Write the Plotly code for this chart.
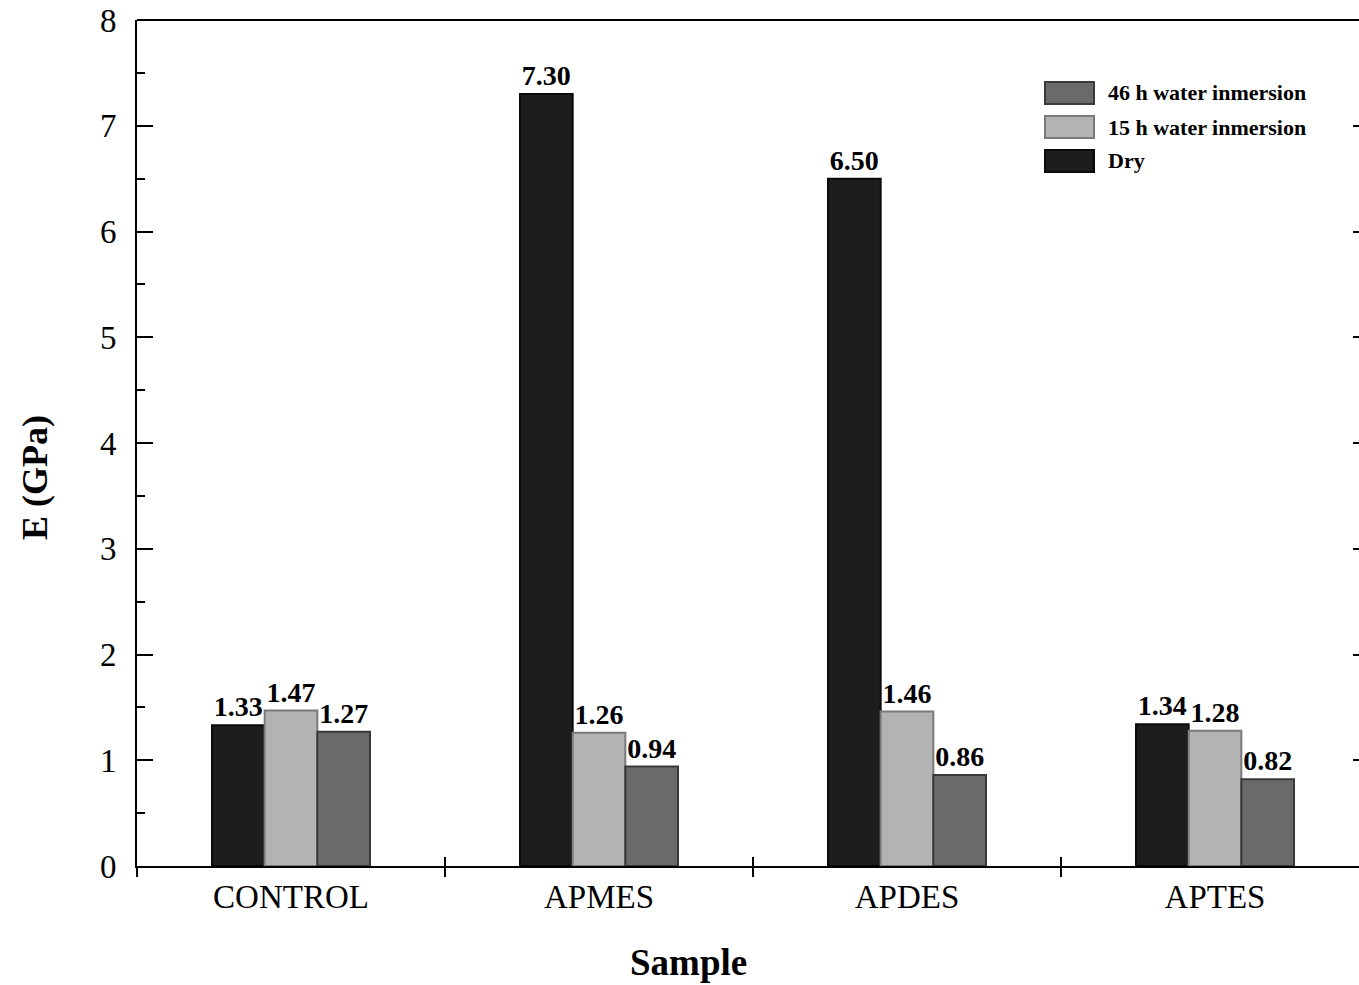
import plotly.graph_objects as go

# Young's modulus per sample and conditioning
samples = ["CONTROL", "APMES", "APDES", "APTES"]
dry = [1.33, 7.30, 6.50, 1.34]
water_15h = [1.47, 1.26, 1.46, 1.28]
water_46h = [1.27, 0.94, 0.86, 0.82]

series_names = ["Dry", "15 h water inmersion", "46 h water inmersion"]
series_values = [dry, water_15h, water_46h]
fill_colors = ["#1d1d1d", "#b3b3b3", "#6a6a6a"]
edge_colors = ["#0a0a0a", "#7a7a7a", "#3a3a3a"]

SERIF = "Liberation Serif, Times New Roman, serif"

fig = go.Figure()
for name, vals, fc, ec in zip(series_names, series_values, fill_colors, edge_colors):
    fig.add_trace(go.Bar(
        x=samples, y=vals, name=name,
        marker=dict(color=fc, line=dict(color=ec, width=2)),
        text=[f"{v:.2f}" for v in vals],
        textposition="outside",
        textfont=dict(family=SERIF, size=28, color="black", weight="bold"),
        constraintext="none",
        cliponaxis=False,
        showlegend=False,
    ))

# Invisible trace so the mirror axes (right ticks, inner x ticks) get drawn
fig.add_trace(go.Scatter(x=samples, y=[None] * 4, xaxis="x2", yaxis="y2",
                         showlegend=False, hoverinfo="skip"))

W, H = 1359, 985
L, R, T, B = 137, 0, 20, 119
XR = [-0.5, 3.4675]

fig.update_layout(
    width=W, height=H,
    margin=dict(l=L, r=R, t=T, b=B),
    paper_bgcolor="white", plot_bgcolor="white",
    barmode="group", bargap=0.487, bargroupgap=0,
    font=dict(family=SERIF, color="black"),
    xaxis=dict(
        range=XR,
        showline=True, linecolor="black", linewidth=2,
        ticks="outside", tickson="boundaries", ticklen=9, tickwidth=2,
        tickcolor="black",
        tickfont=dict(family=SERIF, size=33, color="black"),
        showgrid=False, zeroline=False,
    ),
    xaxis2=dict(
        range=XR, overlaying="x", side="bottom", anchor="y",
        ticks="inside", tickson="boundaries", ticklen=9, tickwidth=2,
        tickcolor="black", showticklabels=False,
        showline=False, showgrid=False, zeroline=False,
    ),
    yaxis=dict(
        range=[0, 8], dtick=1,
        showline=True, linecolor="black", linewidth=2,
        ticks="inside", ticklen=16, tickwidth=2, tickcolor="black",
        minor=dict(ticks="inside", ticklen=8, tickwidth=2, tickcolor="black", dtick=0.5),
        tickfont=dict(family=SERIF, size=33, color="black"),
        ticklabelstandoff=12,
        showgrid=False, zeroline=False,
    ),
    yaxis2=dict(
        range=[0, 8], overlaying="y", side="right", anchor="x",
        tickvals=[1, 2, 3, 4, 5, 6, 7],
        ticks="inside", ticklen=6, tickwidth=2, tickcolor="black",
        showticklabels=False, showline=False, showgrid=False, zeroline=False,
    ),
)

# Top frame line
fig.add_shape(type="line", xref="paper", yref="paper", x0=0, x1=1, y0=1, y1=1,
              line=dict(color="black", width=2))

# Axis titles
fig.add_annotation(text="<b>Sample</b>", xref="paper", yref="paper",
                   x=(688 - L) / (W - L - R), y=-(962 - (H - B)) / (H - T - B),
                   xanchor="center", yanchor="middle", showarrow=False,
                   font=dict(family=SERIF, size=37, color="black"))
fig.add_annotation(text="<b>E (GPa)</b>", xref="paper", yref="paper",
                   x=-(L - 35) / (W - L - R), y=1 - (478 - T) / (H - T - B),
                   xanchor="center", yanchor="middle", textangle=-90, showarrow=False,
                   font=dict(family=SERIF, size=36, color="black"))

# Legend drawn as boxes with labels, listed top to bottom
leg_x0, leg_w, leg_h = 1045, 49, 22
leg_rows = [93, 127, 161]


def px(x):
    return (x - L) / (W - L - R)


def py(y):
    return 1 - (y - T) / (H - T - B)


for i, row_y in enumerate(leg_rows):
    k = len(series_names) - 1 - i
    fig.add_shape(type="rect", xref="paper", yref="paper",
                  x0=px(leg_x0), x1=px(leg_x0 + leg_w),
                  y0=py(row_y - leg_h / 2), y1=py(row_y + leg_h / 2),
                  fillcolor=fill_colors[k], line=dict(color=edge_colors[k], width=2))
    fig.add_annotation(text=series_names[k], xref="paper", yref="paper",
                       x=px(1106), y=py(row_y), xanchor="left", yanchor="middle",
                       showarrow=False,
                       font=dict(family=SERIF, size=22, color="black", weight="bold"))

fig.write_html("out.html")
